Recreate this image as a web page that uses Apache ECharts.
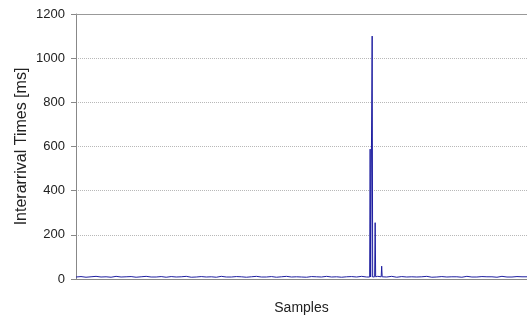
<!DOCTYPE html>
<html>
<head>
<meta charset="utf-8">
<script src="https://cdn.jsdelivr.net/npm/echarts@6/dist/echarts.min.js"></script>
<style>
  html, body { margin: 0; padding: 0; background: #fff; }
  #chart { width: 527px; height: 318px; }
</style>
</head>
<body>
<div id="chart"></div>
<script>
// baseline samples, one value every 10 samples
const baseStep = 10
const baseValues = [
  9, 11, 8, 10, 12, 9, 10, 8, 12, 9, 10, 11, 8, 10, 12, 9, 9, 11, 8, 11,
  9, 10, 12, 8, 9, 11, 9, 10, 8, 12, 9, 9, 11, 10, 8, 10, 12, 9, 9, 11,
  8, 10, 12, 9, 10, 9, 8, 11, 10, 9, 12, 9, 10, 8, 10, 11, 9, 12, 9, 8,
  10, 10, 9, 12, 8, 11, 9, 10, 9, 10, 12, 8, 9, 11, 9, 10, 10, 8, 12, 9,
  9, 11, 10, 10, 8, 12, 9, 9, 11, 10, 10
]
// spikes (sample, value), with their flanking samples
const spikeSamples = [586, 587, 588, 590, 591, 592, 596, 597, 598, 602, 605, 609, 610, 611]
const spikeValues  = [9, 588, 9, 10, 1100, 9, 10, 255, 10, 12, 14, 10, 58, 10]
const yTicks = [0, 200, 400, 600, 800, 1000, 1200]

let points = baseValues.map((v, i) => [i * baseStep, v])
spikeSamples.forEach((s, i) => { points.push([s, spikeValues[i]]) })
points.sort((a, b) => a[0] - b[0])

const chart = echarts.init(document.getElementById('chart'))
chart.setOption({
  animation: false,
  grid: { left: 76, right: 0, top: 14, bottom: 39, outerBoundsMode: 'none' },
  xAxis: {
    type: 'value',
    min: 0,
    max: 900,
    name: 'Samples',
    nameLocation: 'middle',
    nameGap: 22,
    nameMoveOverlap: false,
    nameTextStyle: { fontFamily: 'Liberation Sans', fontSize: 14, color: '#222' },
    axisLine: { show: true, lineStyle: { color: '#888', width: 1 } },
    axisTick: { show: false },
    axisLabel: { show: false },
    splitLine: { show: false }
  },
  yAxis: {
    type: 'value',
    min: yTicks[0],
    max: yTicks[yTicks.length - 1],
    interval: 200,
    name: 'Interarrival Times [ms]',
    nameLocation: 'middle',
    nameGap: 46,
    nameMoveOverlap: false,
    nameTextStyle: { fontFamily: 'Liberation Sans', fontSize: 16, color: '#222' },
    axisLine: { show: true, lineStyle: { color: '#888', width: 1 } },
    axisTick: { show: true, length: 5, lineStyle: { color: '#888' } },
    axisLabel: {
      margin: 11,
      fontFamily: 'Liberation Sans',
      fontSize: 13,
      color: '#222',
      formatter: v => String(v)
    },
    splitLine: { show: true, lineStyle: { color: '#b8b8b8', type: 'dotted', width: 1 } }
  },
  series: [{
    type: 'line',
    data: points,
    symbol: 'none',
    lineStyle: { color: '#1e1ea0', width: 1 },
    markLine: {
      silent: true,
      symbol: 'none',
      label: { show: false },
      lineStyle: { color: '#999', type: 'solid', width: 1 },
      data: [{ yAxis: 1200 }]
    }
  }]
})
</script>
</body>
</html>
